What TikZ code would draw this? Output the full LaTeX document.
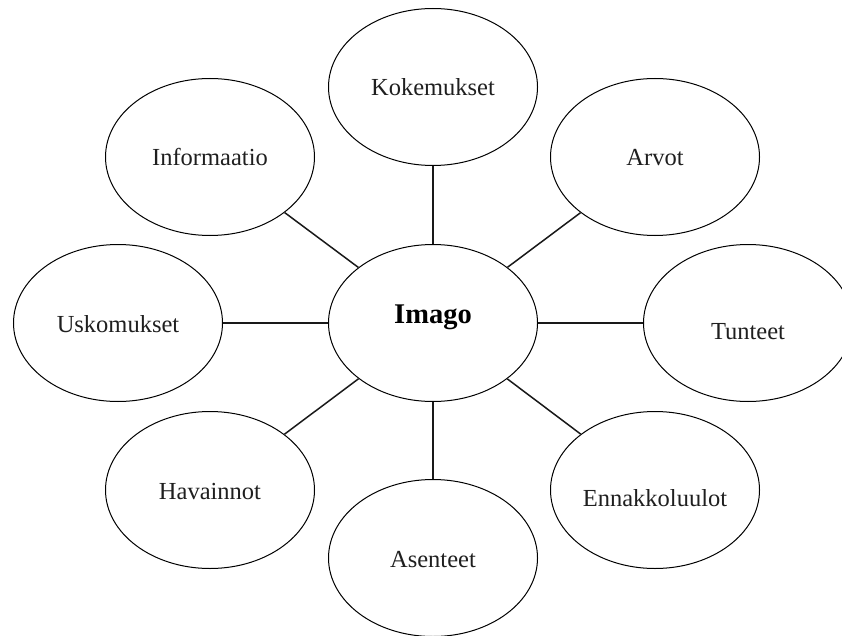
\documentclass[tikz,border=0pt]{standalone}
\usepackage{fontspec}
\setmainfont{Liberation Serif}
\usetikzlibrary{shapes.geometric}
\tikzset{
  bubble/.style={draw=black, line width=1pt, ellipse, inner sep=0pt,
    minimum width=209pt, minimum height=157pt, text=black!88,
    text height=18pt, text depth=0pt,
    font=\fontsize{24.5}{28}\selectfont},
  hub/.style={bubble, font=\fontsize{28.5}{32}\selectfont\bfseries, text=black,
    text height=0pt, text depth=0pt},
  low/.style={text height=33pt, text depth=0pt},
  link/.style={draw=black!90, line width=1.5pt}
}
\begin{document}
\begin{tikzpicture}[x=1pt,y=-1pt]
\useasboundingbox (0,0) rectangle (842,636);
\node[hub]    (imago) at (433,323) {Imago};
\node[bubble] (koke)  at (433,87)  {Kokemukset};
\node[bubble] (asen)  at (433,558) {Asenteet};
\node[bubble] (info)  at (210,157) {Informaatio};
\node[bubble] (arvot) at (655,157) {Arvot};
\node[bubble] (usko)  at (118,323) {Uskomukset};
\node[bubble,low] (tunt)  at (748,323) {Tunteet};
\node[bubble] (hava)  at (210,490) {Havainnot};
\node[bubble,low] (enna)  at (655,490) {Ennakkoluulot};
\foreach \n in {koke,asen,info,arvot,usko,tunt,hava,enna}
  \draw[link] (imago) -- (\n);
\end{tikzpicture}
\end{document}
